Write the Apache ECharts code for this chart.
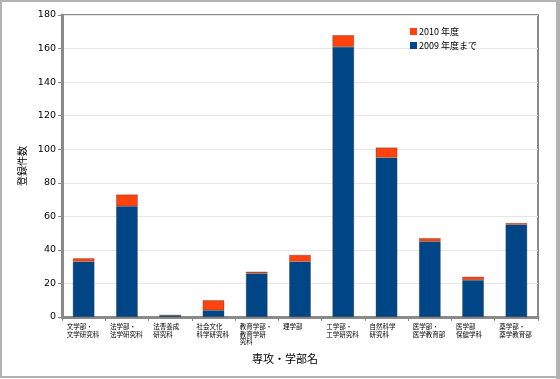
<!DOCTYPE html>
<html><head><meta charset="utf-8">
<script src="https://cdn.jsdelivr.net/npm/echarts@6/dist/echarts.min.js"></script>
<style>html,body{margin:0;padding:0;background:#fff}#c{width:560px;height:379px}</style>
</head><body><div id="c"></div>
<script>
const categories = ['文学部・\n文学研究科','法学部・\n法学研究科','法曹養成\n研究科','社会文化\n科学研究科','教育学部・\n教育学研\n究科','理学部','工学部・\n工学研究科','自然科学\n研究科','医学部・\n医学教育部','医学部\n保健学科','薬学部・\n薬学教育部'];
const upTo2009 = [33, 66, 1, 4, 26, 33, 161, 95, 45, 22, 55];
const year2010 = [2, 7, 0, 6, 1, 4, 7, 6, 2, 2, 1];
const yTicks = [0, 20, 40, 60, 80, 100, 120, 140, 160, 180];
const seriesNames = ['2009 年度まで', '2010 年度'];

const chart = echarts.init(document.getElementById('c'));
const cjk = '"Noto Sans CJK JP", "DejaVu Sans", sans-serif';
chart.setOption({
  animation: false,
  textStyle: { fontFamily: cjk },
  graphic: [
    { type: 'rect', shape: { x: 1, y: 1, width: 556, height: 376 }, style: { fill: 'none', stroke: '#b3b3b3', lineWidth: 2 }, silent: true },
    { type: 'rect', shape: { x: 556, y: 0, width: 4, height: 379 }, style: { fill: '#b3b3b3' }, silent: true }
  ],
  grid: { left: 62, right: 22, top: 15, bottom: 62, show: true, borderColor: '#8a8a8a', borderWidth: 2, containLabel: false },
  legend: {
    data: [seriesNames[1], seriesNames[0]],
    orient: 'vertical', left: 405, top: 22,
    itemWidth: 7, itemHeight: 7, itemGap: 5,
    icon: 'rect',
    itemStyle: { borderWidth: 0 },
    textStyle: { fontSize: 9, color: '#000', fontFamily: cjk, padding: [0, 0, 0, -3] }
  },
  xAxis: {
    type: 'category', data: categories,
    name: '専攻・学部名', nameLocation: 'middle', nameGap: 36,
    nameTextStyle: { fontSize: 11, color: '#000', padding: [0, 30, 0, 0] },
    axisLine: { lineStyle: { color: '#8a8a8a', width: 3 } },
    axisTick: { show: true, length: 4, lineStyle: { color: '#8a8a8a', width: 1 } },
    axisLabel: {
      interval: 0, margin: 6, color: '#000',
      formatter: v => v.split('\n').map(s => '{a|' + s + '}').join('\n'),
      rich: { a: { width: 34, align: 'left', fontSize: 6.5, lineHeight: 7.5, color: '#000', fontFamily: cjk } }
    }
  },
  yAxis: {
    type: 'value', min: yTicks[0], max: yTicks[yTicks.length - 1], interval: 20,
    name: '登録件数', nameLocation: 'middle', nameGap: 34, nameRotate: 90,
    nameTextStyle: { fontSize: 10, color: '#000' },
    axisLine: { show: true, lineStyle: { color: '#8a8a8a', width: 3 } },
    axisTick: { show: true, length: 4, lineStyle: { color: '#8a8a8a', width: 1 } },
    axisLabel: { fontSize: 9.5, color: '#000', margin: 6, fontFamily: '"DejaVu Sans", sans-serif' },
    splitLine: { lineStyle: { color: '#e6e6e6', width: 1 } }
  },
  series: [
    { name: seriesNames[0], type: 'bar', stack: 't', data: upTo2009, barWidth: '50%',
      itemStyle: { color: '#004586', borderColor: 'rgba(60,60,60,0.6)', borderWidth: 0.6 } },
    { name: seriesNames[1], type: 'bar', stack: 't', data: year2010, barWidth: '50%',
      itemStyle: { color: '#ff420e', borderColor: 'rgba(60,60,60,0.6)', borderWidth: 0.6 } }
  ]
});
</script></body></html>
